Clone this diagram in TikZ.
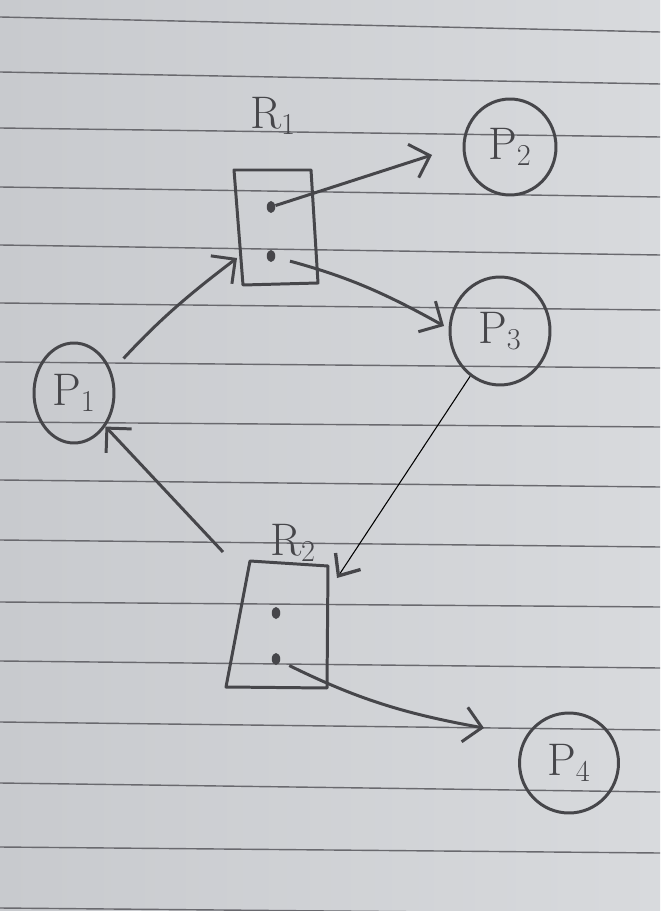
\documentclass[tikz,border=0pt]{standalone}
\usetikzlibrary{shapes.geometric,arrows.meta}
\definecolor{paper}{RGB}{200,202,206}
\definecolor{paperlight}{RGB}{216,218,221}
\definecolor{rule}{RGB}{105,105,110}
\definecolor{ink}{RGB}{70,70,74}

\begin{document}
\begin{tikzpicture}[x=0.02cm,y=-0.02cm,
  proc/.style={ellipse,draw=ink,line width=1.7pt,inner sep=0pt,text=ink,font=\fontsize{26}{28}\selectfont},
  reslabel/.style={text=ink,inner sep=0pt,font=\fontsize{26}{28}\selectfont},
  resbox/.style={draw=ink,line width=1.7pt,line join=round},
  dot/.style={ellipse,fill=ink,inner sep=0pt,minimum width=.17cm,minimum height=.24cm},
  edge/.style={draw=ink,line width=1.7pt,-{Straight Barb[length=3.5mm,width=7mm]}},
  penedge/.style={draw=black,line width=.6pt,-{Straight Barb[length=3.5mm,width=6mm,line width=1.9pt,color=ink]}}]
% paper
\fill[left color=paper,right color=paperlight] (0,0) rectangle (660,911);
\useasboundingbox (0,0) rectangle (660,911);
\foreach \yl/\yr in {17/32,72/84,128/137,187/197,245/255,303/310,362/368,422/427,480/487,540/547,602/607,661/668,722/730,783/792,847/853,908/914}
  \draw[rule,line width=.8pt] (0,\yl) -- (660,\yr);

% resources
\coordinate (r1nw) at (234,170);
\coordinate (r1ne) at (311,170);
\coordinate (r1se) at (318,283);
\coordinate (r1sw) at (243,285);
\draw[resbox] (r1nw) -- (r1ne) -- (r1se) -- (r1sw) -- cycle;
\node[reslabel] (r1lab) at (273,116) {R$_1$};
\node[dot] (r1a) at (271,207) {};
\node[dot] (r1b) at (271,256) {};

\coordinate (r2nw) at (250,561);
\coordinate (r2ne) at (328,566);
\coordinate (r2se) at (327,688);
\coordinate (r2sw) at (226,687);
\draw[resbox] (r2nw) -- (r2ne) -- (r2se) -- (r2sw) -- cycle;
\node[reslabel] (r2lab) at (293,543) {R$_2$};
\node[dot] (r2a) at (276,613) {};
\node[dot] (r2b) at (276,659) {};

% processes
\node[proc,minimum width=1.6cm,minimum height=2cm] (p1) at (74,393) {P$_1$};
\node[proc,minimum width=1.84cm,minimum height=1.92cm] (p2) at (510,147) {P$_2$};
\node[proc,minimum width=2cm,minimum height=2.16cm] (p3) at (500,331) {P$_3$};
\node[proc,minimum width=1.98cm,minimum height=2cm] (p4) at (569,763) {P$_4$};

% edges
\coordinate (p2in) at (432,155);
\coordinate (p3in) at (444,326);
\coordinate (r1in) at (237,258);
\coordinate (r2in) at (337,578);
\coordinate (r2out) at (223,552);
\coordinate (p4in) at (484,728);
\draw[edge] (r1a) -- (p2in);
\draw[edge,shorten <=.3cm] (r1b) to[bend left=7] (p3in);
\draw[edge,shorten <=.35cm] (p1.30) to[bend left=5] (r1in);
\draw[penedge] (p3) -- (r2in);
\draw[edge] (r2out) -- (p1);
\draw[edge,shorten <=.2cm] (r2b) to[bend right=8] (p4in);
\end{tikzpicture}
\end{document}
